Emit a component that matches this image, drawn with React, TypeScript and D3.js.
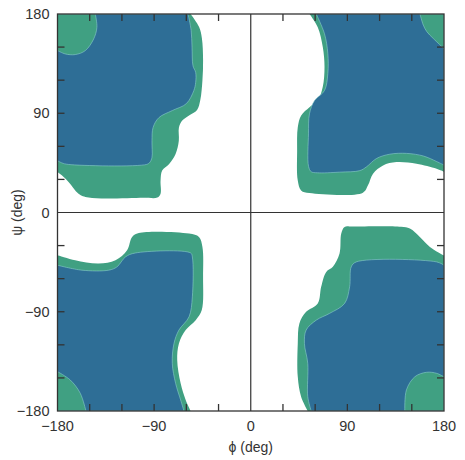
import * as d3 from "d3";

type Pt = [number, number];

// phi / psi ticks
const MAJOR_TICKS = [-180, -90, 0, 90, 180];
const MINOR_TICKS = [-150, -120, -90, -60, -30, 30, 60, 90, 120, 150];

// contour outlines, [phi, psi] in degrees, start and end on the plot edge
const TL_OUTER: Pt[] = [
  [-56, 180], [-48, 168], [-45.5, 158], [-44.4, 138], [-45, 120], [-47, 102],
  [-50, 93], [-57.5, 88], [-63.8, 83.4], [-66.9, 77], [-67, 65], [-70, 53],
  [-76, 44], [-82.5, 38], [-84, 29], [-84, 17], [-87, 13.5], [-100, 13.3],
  [-151, 13.5], [-160.4, 17], [-169.7, 27.6], [-176, 33.7], [-180, 36.7],
];
const TL_INNER: Pt[] = [
  [-58.4, 180], [-55.5, 165], [-54.7, 150], [-53.8, 133], [-51.3, 127],
  [-51.3, 118], [-53, 110.6], [-60, 98.7], [-73, 92.5], [-85.6, 86],
  [-91, 77], [-92, 65], [-92, 50], [-94, 45.5], [-97, 43.6], [-170, 43.6],
  [-176, 45], [-180, 47],
];
const TR_OUTER: Pt[] = [
  [54.7, 180], [62.4, 168], [67.1, 150], [68.7, 132], [67.1, 114],
  [62.4, 101.5], [54.7, 95.5], [47, 88], [43.8, 77.4], [43.2, 56],
  [43.8, 29], [46.9, 20], [54.7, 17.6], [104.5, 18], [109.2, 24.6],
  [113.9, 35.2], [123.2, 42.7], [135.7, 45.7], [154.4, 44.2], [173.1, 39.7],
  [180, 37],
];
const TR_INNER: Pt[] = [
  [61, 180], [68.7, 162], [71.8, 144], [71.8, 126], [68.7, 110.6],
  [59.4, 101.5], [54.7, 89.5], [53.8, 71.4], [53.8, 42], [56.3, 37],
  [62, 36], [83, 36.6], [101.7, 38], [107.8, 41.4], [117.2, 49],
  [129.6, 52.9], [145.3, 53.6], [160.9, 51.2], [173.4, 46.1], [180, 43],
];
const BL_OUTER: Pt[] = [
  [-180, -38.7], [-163.5, -43.3], [-141.7, -46.3], [-126, -43.3],
  [-115.2, -34.2], [-110.5, -22.2], [-104.3, -18.6], [-57.5, -19.1],
  [-48.2, -22.2], [-45, -31.2], [-44.4, -58.4], [-45.6, -88.5],
  [-51.3, -97.6], [-60.6, -106.6], [-66.9, -118.7], [-68.5, -133.8],
  [-65.3, -154.9], [-60.6, -170], [-56, -180],
];
const BL_INNER: Pt[] = [
  [-180, -47.8], [-157.3, -52.3], [-132.3, -52.3], [-124.6, -49.3],
  [-116.7, -40.3], [-107.4, -36.7], [-56, -36.7], [-54.4, -40.3],
  [-54.4, -76.5], [-57.5, -94.6], [-66.9, -106.6], [-71.5, -118.7],
  [-73.1, -136.7], [-70, -154.9], [-65.3, -170], [-62.2, -180],
];
const BR_OUTER: Pt[] = [
  [53.1, -180], [46.9, -167], [43.8, -149], [43.8, -118.7], [45.3, -100.6],
  [51.6, -90.1], [62.4, -82.5], [65.6, -67.4], [70.3, -53.9], [76.5, -49.3],
  [82.7, -37.2], [84.3, -19.1], [87.4, -13.1], [95, -12.8], [140, -13],
  [148.2, -14.6], [157.5, -22.2], [166.9, -31.2], [180, -39],
];
const BR_INNER: Pt[] = [
  [56.3, -180], [53.1, -167], [53.1, -136.7], [50, -118.7], [51.6, -106.6],
  [61, -97.6], [73.4, -91.5], [87.4, -82.5], [92.1, -67.4], [93.6, -49.3],
  [98.3, -44.8], [173.1, -44.8], [180, -47.8],
];
// green patches in the four corners
const TL_CORNER: Pt[] = [
  [-144.8, 180], [-143.3, 168], [-146.3, 157.4], [-154.1, 146.8],
  [-163.5, 143.2], [-172.8, 143.8], [-180, 146.8],
];
const TR_CORNER: Pt[] = [
  [157.6, 180], [160.7, 170], [164, 164], [170, 157.8], [180, 148.6],
];
const BL_CORNER: Pt[] = [
  [-180, -144.3], [-168.1, -151.9], [-158.8, -163.9], [-153.5, -180],
];
const BR_CORNER: Pt[] = [
  [143.5, -180], [145, -160.9], [152.9, -148.9], [163.7, -144.9],
  [173.1, -145.8], [180, -149],
];

const GREEN = "#40a082";
const BLUE = "#2e6e96";
const EDGE = "#8fd3d0";
const INK = "#333";

const WIDTH = 465;
const HEIGHT = 460;

export default function App() {
  const x = d3.scaleLinear().domain([-180, 180]).range([57.5, 444]);
  const y = d3.scaleLinear().domain([-180, 180]).range([411, 14]);

  const line = d3
    .line<Pt>()
    .x((d) => x(d[0]))
    .y((d) => y(d[1]))
    .curve(d3.curveCatmullRom.alpha(0.5));

  // contour + straight closing through the plot corner
  const region = (pts: Pt[], corner: Pt) =>
    line(pts) + `L${x(corner[0])},${y(corner[1])}Z`;

  const greens: [Pt[], Pt][] = [
    [TL_OUTER, [-180, 180]],
    [TR_OUTER, [180, 180]],
    [BL_OUTER, [-180, -180]],
    [BR_OUTER, [180, -180]],
  ];
  const blues: [Pt[], Pt][] = [
    [TL_INNER, [-180, 180]],
    [TR_INNER, [180, 180]],
    [BL_INNER, [-180, -180]],
    [BR_INNER, [180, -180]],
  ];
  const corners: [Pt[], Pt][] = [
    [TL_CORNER, [-180, 180]],
    [TR_CORNER, [180, 180]],
    [BL_CORNER, [-180, -180]],
    [BR_CORNER, [180, -180]],
  ];

  const [x0, x1] = x.range();
  const [y0, y1] = y.range();
  const tickLen = 7;
  const font = "'Liberation Sans', Arial, sans-serif";

  return (
    <svg
      width={WIDTH}
      height={HEIGHT}
      style={{ position: "absolute", left: 0, top: 0, background: "#fff" }}
    >
      <defs>
        <clipPath id="plot">
          <rect x={x0} y={y1} width={x1 - x0} height={y0 - y1} />
        </clipPath>
      </defs>

      <g clipPath="url(#plot)">
        {greens.map(([pts, c], i) => (
          <path key={`g${i}`} d={region(pts, c)} fill={GREEN} />
        ))}
        {blues.map(([pts, c], i) => (
          <path
            key={`b${i}`}
            d={region(pts, c)}
            fill={BLUE}
            stroke={EDGE}
            strokeWidth={0.8}
            strokeOpacity={0.7}
          />
        ))}
        {corners.map(([pts, c], i) => (
          <path
            key={`c${i}`}
            d={region(pts, c)}
            fill={GREEN}
            stroke={EDGE}
            strokeWidth={0.8}
            strokeOpacity={0.7}
          />
        ))}
      </g>

      {/* frame and zero lines */}
      <rect
        x={x0}
        y={y1}
        width={x1 - x0}
        height={y0 - y1}
        fill="none"
        stroke={INK}
        strokeWidth={1.3}
      />
      <line x1={x(0)} x2={x(0)} y1={y1} y2={y0} stroke={INK} strokeWidth={1.2} />
      <line x1={x0} x2={x1} y1={y(0)} y2={y(0)} stroke={INK} strokeWidth={1.2} />

      {/* inward ticks on all four sides */}
      <g stroke={INK} strokeWidth={1.3}>
        {MINOR_TICKS.map((t) => (
          <g key={t}>
            <line x1={x(t)} x2={x(t)} y1={y1} y2={y1 + tickLen} />
            <line x1={x(t)} x2={x(t)} y1={y0} y2={y0 - tickLen} />
            <line x1={x0} x2={x0 + tickLen} y1={y(t)} y2={y(t)} />
            <line x1={x1} x2={x1 - tickLen} y1={y(t)} y2={y(t)} />
          </g>
        ))}
      </g>

      <g fontFamily={font} fontSize={14.5} fill={INK}>
        {MAJOR_TICKS.map((t) => (
          <text key={`x${t}`} x={x(t)} y={431} textAnchor="middle">
            {t < 0 ? `\u2212${-t}` : t}
          </text>
        ))}
        {MAJOR_TICKS.map((t) => (
          <text
            key={`y${t}`}
            x={49.5}
            y={y(t)}
            dy="0.35em"
            textAnchor="end"
          >
            {t < 0 ? `\u2212${-t}` : t}
          </text>
        ))}
        <text x={x(0)} y={452} textAnchor="middle" fontSize={14}>
          ϕ (deg)
        </text>
        <text
          transform={`translate(22,${y(0)}) rotate(-90)`}
          textAnchor="middle"
          fontSize={14}
        >
          ψ (deg)
        </text>
      </g>
    </svg>
  );
}
